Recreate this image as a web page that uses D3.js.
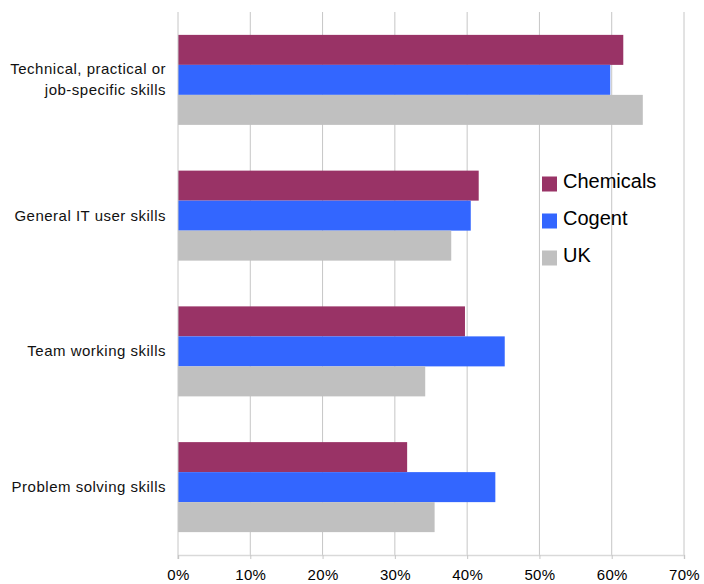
<!DOCTYPE html>
<html>
<head>
<meta charset="utf-8">
<script src="https://cdn.jsdelivr.net/npm/d3@7"></script>
<style>
  body { margin: 0; background: #fff; }
  svg { display: block; font-family: "Liberation Sans", Arial, sans-serif; }
</style>
</head>
<body>
<svg id="chart"></svg>
<script>
// data
const categories = [
    ['Technical, practical or', 'job-specific skills'],
    ['General IT user skills'],
    ['Team working skills'],
    ['Problem solving skills']
];
const seriesNames = ['Chemicals', 'Cogent', 'UK'];
const chemicals = [61.6, 41.6, 39.7, 31.7];
const cogent = [59.8, 40.5, 45.2, 43.9];
const uk = [64.3, 37.8, 34.2, 35.5];
const xTicks = [0, 10, 20, 30, 40, 50, 60, 70];
const colors = ['#993366', '#3366ff', '#c0c0c0'];

const width = 704;
const height = 584;
const margin = { top: 12, right: 20, bottom: 29, left: 178 };

const svg = d3.select('#chart')
    .attr('width', width)
    .attr('height', height);

const values = [chemicals, cogent, uk];

//scales
const x = d3.scaleLinear()
    .domain([0, 70])
    .range([margin.left, width - margin.right]);

const y0 = d3.scaleBand()
    .domain(d3.range(categories.length))
    .range([margin.top, height - margin.bottom])
    .paddingInner(0.337)
    .paddingOuter(0.1685);

const y1 = d3.scaleBand()
    .domain(seriesNames)
    .range([0, y0.bandwidth()]);

// gridlines
svg.append('g')
    .selectAll('line')
    .data(xTicks.slice(1))
    .join('line')
    .attr('x1', d => x(d))
    .attr('x2', d => x(d))
    .attr('y1', margin.top)
    .attr('y2', height - margin.bottom)
    .attr('stroke', '#c6c6c6')
    .attr('stroke-width', 1);

// bars
const groups = svg.append('g')
    .selectAll('g')
    .data(categories)
    .join('g')
    .attr('transform', (d, i) => `translate(0,${y0(i)})`);

groups.selectAll('rect')
    .data((d, i) => seriesNames.map((s, j) => ({ key: s, value: values[j][i], color: colors[j] })))
    .join('rect')
    .attr('x', x(0))
    .attr('y', d => y1(d.key))
    .attr('width', d => x(d.value) - x(0))
    .attr('height', y1.bandwidth())
    .attr('fill', d => d.color);

// left axis line
svg.append('line')
    .attr('x1', x(0)).attr('x2', x(0))
    .attr('y1', margin.top).attr('y2', height - margin.bottom + 4)
    .attr('stroke', '#c6c6c6');

// bottom axis
svg.append('g')
    .attr('transform', `translate(0,${height - margin.bottom})`)
    .call(d3.axisBottom(x).tickValues(xTicks).tickFormat(d => d + '%').tickSize(4).tickPadding(10))
    .call(g => g.select('.domain').attr('stroke', '#d9d9d9').attr('stroke-width', 1.5))
    .call(g => g.selectAll('.tick line').attr('stroke', '#c6c6c6'))
    .call(g => g.selectAll('.tick text')
        .attr('fill', '#000')
        .attr('font-size', '15px')
        .attr('letter-spacing', '0.3px')
        .attr('font-family', '"Liberation Sans", Arial, sans-serif'));

// category labels
const labels = svg.append('g')
    .selectAll('text')
    .data(categories)
    .join('text')
    .attr('text-anchor', 'end')
    .attr('font-size', '15px')
    .attr('letter-spacing', '0.5px')
    .attr('fill', '#111')
    .attr('transform', (d, i) => `translate(166,${y0(i) + y0.bandwidth() / 2})`);

labels.selectAll('tspan')
    .data(d => d)
    .join('tspan')
    .attr('x', 0)
    .attr('y', (d, i, n) => (i - (n.length - 1) / 2) * 21 + 5)
    .text(d => d);

// legend
const legend = svg.append('g')
    .attr('transform', 'translate(542,184)');

const item = legend.selectAll('g')
    .data(seriesNames)
    .join('g')
    .attr('transform', (d, i) => `translate(0,${i * 37})`);

item.append('rect')
    .attr('x', 0)
    .attr('y', -7.5)
    .attr('width', 15)
    .attr('height', 15)
    .attr('fill', (d, i) => colors[i]);

item.append('text')
    .attr('x', 21)
    .attr('y', 4)
    .attr('font-size', '20px')
    .attr('fill', '#000')
    .text(d => d);
</script>
</body>
</html>
